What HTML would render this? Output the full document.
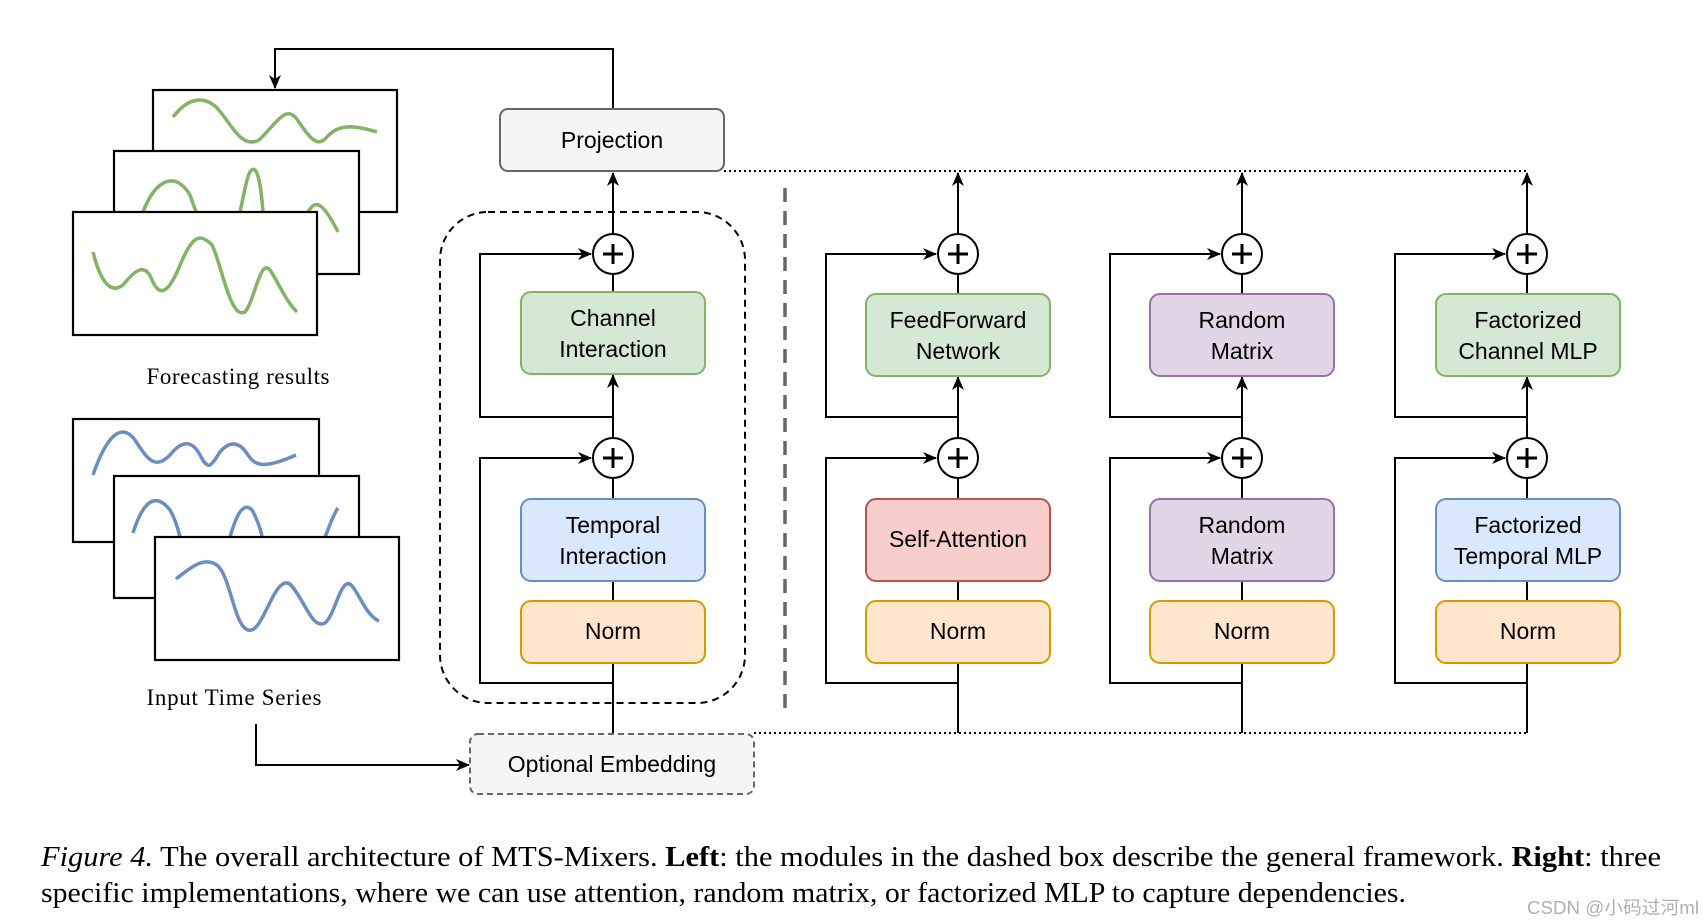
<!DOCTYPE html>
<html><head><meta charset="utf-8"><style>
html,body{margin:0;padding:0;background:#fff;}
svg{display:block;}
.l{font-family:"Liberation Sans",Arial,sans-serif;font-size:23px;fill:#000;text-anchor:middle;}
.s{font-family:"Liberation Serif","Times New Roman",serif;}
</style></head><body>
<svg width="1706" height="922" viewBox="0 0 1706 922" xmlns="http://www.w3.org/2000/svg">
<defs>
<marker id="a" markerWidth="14" markerHeight="12" refX="13" refY="6" orient="auto" markerUnits="userSpaceOnUse">
<path d="M0,0 L14,6 L0,12 L4,6 Z" fill="#000"/></marker>
</defs>
<g fill="none" stroke="#000" stroke-width="2">
<path d="M613,109 V49 H275 V88" marker-end="url(#a)"/>
<path d="M256,724 V765 H469" marker-end="url(#a)"/>
</g>
<g stroke-width="2.2" stroke="#000">
<rect x="153" y="90" width="244" height="122" fill="#fff"/>
<path d="M173,117 C190,95 205,98 215,106 C230,120 240,150 259,140 C275,125 285,105 296,118 C305,130 315,150 326,138 C335,128 345,122 377,132" fill="none" stroke="#82b366" stroke-width="3.5"/>
<rect x="114" y="151" width="245" height="123" fill="#fff"/>
<path d="M143,212 C155,180 175,170 190,195 L196,212 M240,212 C245,190 248,165 255,170 C260,175 262,200 263,212 M308,212 C315,200 322,200 338,232" fill="none" stroke="#82b366" stroke-width="3.5"/>
<rect x="73" y="212" width="244" height="123" fill="#fff"/>
<path d="M93,252 C100,280 110,295 123,285 C135,270 145,262 152,280 C160,298 168,292 178,270 C190,240 198,230 212,245 C222,265 230,320 245,312 C255,300 260,258 270,270 C280,285 285,300 297,312" fill="none" stroke="#82b366" stroke-width="3.5"/>
<rect x="73" y="419" width="246" height="123" fill="#fff"/>
<path d="M93,475 C105,440 120,420 135,440 C148,460 155,470 170,455 C182,440 192,440 200,455 C208,470 210,468 220,452 C230,440 240,442 248,455 C255,465 262,470 296,455" fill="none" stroke="#6c8ebf" stroke-width="3.5"/>
<rect x="114" y="476" width="245" height="122" fill="#fff"/>
<path d="M133,533 C145,495 158,495 170,510 C176,520 180,537 180,537 M230,537 C235,520 242,500 252,510 C258,520 262,535 262,537 M325,537 C330,525 333,515 338,508" fill="none" stroke="#6c8ebf" stroke-width="3.5"/>
<rect x="155" y="537" width="244" height="123" fill="#fff"/>
<path d="M176,579 C190,568 205,555 218,566 C232,580 235,635 252,630 C265,625 275,575 290,584 C305,600 312,630 325,623 C335,615 340,580 350,584 C358,590 365,615 379,621" fill="none" stroke="#6c8ebf" stroke-width="3.5"/>
</g>
<text x="238" y="384" class="s" font-size="23" text-anchor="middle" textLength="183">Forecasting results</text>
<text x="234" y="705" class="s" font-size="23" text-anchor="middle" textLength="175">Input Time Series</text>

<rect x="440" y="212" width="305" height="491" rx="48" fill="none" stroke="#000" stroke-width="2" stroke-dasharray="7,5"/>
<line x1="785" y1="188" x2="785" y2="717" stroke="#666" stroke-width="3.5" stroke-dasharray="14,9"/>
<line x1="724" y1="171" x2="1527" y2="171" stroke="#000" stroke-width="2" stroke-dasharray="2,3"/>
<line x1="754" y1="733" x2="1527" y2="733" stroke="#000" stroke-width="2" stroke-dasharray="2,3"/>

<rect x="500" y="109" width="224" height="62" rx="8" fill="#f5f5f5" stroke="#666" stroke-width="2"/>
<text x="612" y="148" class="l">Projection</text>
<rect x="470" y="734" width="284" height="60" rx="8" fill="#f5f5f5" stroke="#666" stroke-width="2" stroke-dasharray="6,4"/>
<text x="612" y="772" class="l">Optional Embedding</text>

<g fill="none" stroke="#000" stroke-width="2">
<path d="M613,733 V273" />
<path d="M613,233 V173" marker-end="url(#a)"/>
<path d="M613,417 H480 V254 H591" marker-end="url(#a)"/>
<path d="M613,683 H480 V458 H591" marker-end="url(#a)"/>
<path d="M613,436 V375" marker-end="url(#a)"/>
<path d="M958,733 V273"/>
<path d="M958,233 V173" marker-end="url(#a)"/>
<path d="M958,417 H826 V254 H936" marker-end="url(#a)"/>
<path d="M958,683 H826 V458 H936" marker-end="url(#a)"/>
<path d="M958,436 V377" marker-end="url(#a)"/>
<path d="M1242,733 V273"/>
<path d="M1242,233 V173" marker-end="url(#a)"/>
<path d="M1242,417 H1110 V254 H1220" marker-end="url(#a)"/>
<path d="M1242,683 H1110 V458 H1220" marker-end="url(#a)"/>
<path d="M1242,436 V377" marker-end="url(#a)"/>
<path d="M1527,733 V273"/>
<path d="M1527,233 V173" marker-end="url(#a)"/>
<path d="M1527,417 H1395 V254 H1505" marker-end="url(#a)"/>
<path d="M1527,683 H1395 V458 H1505" marker-end="url(#a)"/>
<path d="M1527,436 V377" marker-end="url(#a)"/>
</g>
<g fill="#fff" stroke="#000" stroke-width="2">
<circle cx="613" cy="254" r="20"/><circle cx="613" cy="458" r="20"/>
<circle cx="958" cy="254" r="20"/><circle cx="958" cy="458" r="20"/>
<circle cx="1242" cy="254" r="20"/><circle cx="1242" cy="458" r="20"/>
<circle cx="1527" cy="254" r="20"/><circle cx="1527" cy="458" r="20"/>
</g>
<g stroke="#000" stroke-width="3">
<path d="M603,254 H623 M613,244 V264 M603,458 H623 M613,448 V468"/>
<path d="M948,254 H968 M958,244 V264 M948,458 H968 M958,448 V468"/>
<path d="M1232,254 H1252 M1242,244 V264 M1232,458 H1252 M1242,448 V468"/>
<path d="M1517,254 H1537 M1527,244 V264 M1517,458 H1537 M1527,448 V468"/>
</g>
<g stroke-width="2">
<rect x="521" y="292" width="184" height="82" rx="10" fill="#d5e8d4" stroke="#82b366"/>
<rect x="521" y="499" width="184" height="82" rx="10" fill="#dae8fc" stroke="#6c8ebf"/>
<rect x="521" y="601" width="184" height="62" rx="10" fill="#ffe6cc" stroke="#d79b00"/>
<rect x="866" y="294" width="184" height="82" rx="10" fill="#d5e8d4" stroke="#82b366"/>
<rect x="866" y="499" width="184" height="82" rx="10" fill="#f8cecc" stroke="#b85450"/>
<rect x="866" y="601" width="184" height="62" rx="10" fill="#ffe6cc" stroke="#d79b00"/>
<rect x="1150" y="294" width="184" height="82" rx="10" fill="#e1d5e7" stroke="#9673a6"/>
<rect x="1150" y="499" width="184" height="82" rx="10" fill="#e1d5e7" stroke="#9673a6"/>
<rect x="1150" y="601" width="184" height="62" rx="10" fill="#ffe6cc" stroke="#d79b00"/>
<rect x="1436" y="294" width="184" height="82" rx="10" fill="#d5e8d4" stroke="#82b366"/>
<rect x="1436" y="499" width="184" height="82" rx="10" fill="#dae8fc" stroke="#6c8ebf"/>
<rect x="1436" y="601" width="184" height="62" rx="10" fill="#ffe6cc" stroke="#d79b00"/>
</g>
<g>
<text x="613" y="326" class="l">Channel</text><text x="613" y="357" class="l">Interaction</text>
<text x="613" y="533" class="l">Temporal</text><text x="613" y="564" class="l">Interaction</text>
<text x="613" y="639" class="l">Norm</text>
<text x="958" y="328" class="l">FeedForward</text><text x="958" y="359" class="l">Network</text>
<text x="958" y="547" class="l">Self-Attention</text>
<text x="958" y="639" class="l">Norm</text>
<text x="1242" y="328" class="l">Random</text><text x="1242" y="359" class="l">Matrix</text>
<text x="1242" y="533" class="l">Random</text><text x="1242" y="564" class="l">Matrix</text>
<text x="1242" y="639" class="l">Norm</text>
<text x="1528" y="328" class="l">Factorized</text><text x="1528" y="359" class="l">Channel MLP</text>
<text x="1528" y="533" class="l">Factorized</text><text x="1528" y="564" class="l">Temporal MLP</text>
<text x="1528" y="639" class="l">Norm</text>
</g>
<text x="41" y="866" class="s" font-size="28" textLength="1620" lengthAdjust="spacingAndGlyphs"><tspan font-style="italic">Figure 4.</tspan> The overall architecture of MTS-Mixers. <tspan font-weight="bold">Left</tspan>: the modules in the dashed box describe the general framework. <tspan font-weight="bold">Right</tspan>: three</text>
<text x="41" y="902" class="s" font-size="28" textLength="1365" lengthAdjust="spacingAndGlyphs">specific implementations, where we can use attention, random matrix, or factorized MLP to capture dependencies.</text>
<text x="1527" y="914" font-family="'Liberation Sans','Noto Sans CJK SC',sans-serif" font-size="18" fill="#b0b0b0" textLength="172" lengthAdjust="spacingAndGlyphs">CSDN @小码过河ml</text>
</svg>
</body></html>
